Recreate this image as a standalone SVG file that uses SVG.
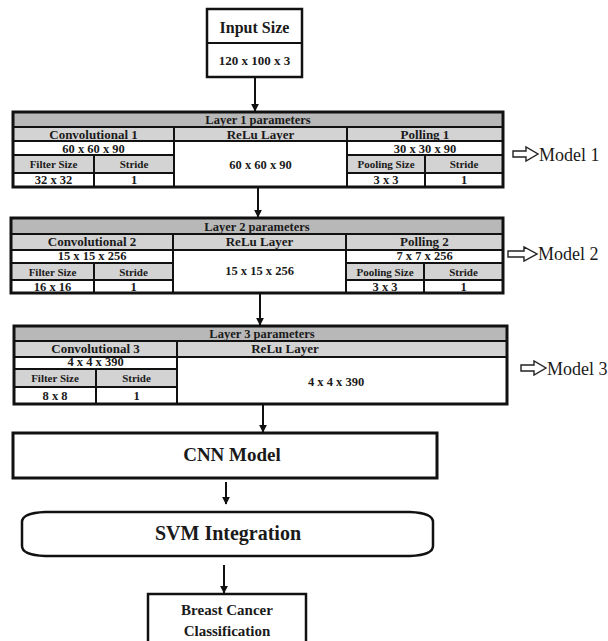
<svg xmlns="http://www.w3.org/2000/svg" width="608" height="641" viewBox="0 0 608 641">
<style>
text{font-family:"Liberation Serif","Times New Roman",serif;font-weight:bold;fill:#1a1a1a;text-anchor:middle}
.t{font-size:12.5px}
.h{font-size:13px}
.v{font-size:12.5px}
.s{font-size:11px}
.m{font-weight:normal;font-size:18px;text-anchor:start}
.tt{fill:#b8b8b8}
.hd{fill:#d3d3d3}
.wb{fill:#ffffff}
.ln{stroke:#111;stroke-width:2;fill:none}
.ob{stroke:#111;stroke-width:3;fill:none}
.bx{fill:#fff;stroke:#111;stroke-width:2.5}
.cn{stroke:#111;stroke-width:2;fill:none;marker-end:url(#ah)}
.ha{fill:#fff;stroke:#222;stroke-width:1.4}
</style>
<defs>
<marker id="ah" viewBox="0 0 10 10" refX="9" refY="5" markerWidth="4" markerHeight="4" orient="auto" markerUnits="strokeWidth">
<path d="M0,0 L10,5 L0,10 Z" fill="#111"/>
</marker>
</defs>
<rect width="608" height="641" fill="#fff"/>

<g id="input">
<rect class="bx" x="207" y="9" width="95" height="68"/>
<line class="ln" x1="207" y1="43" x2="302" y2="43"/>
<text x="254.5" y="33" style="font-size:16px">Input Size</text>
<text x="254.5" y="65" style="font-size:13px">120 x 100 x 3</text>
</g>

<g id="layer1">
<rect class="wb" x="13" y="112" width="490" height="75"/>
<rect class="tt" x="13" y="112" width="490" height="15"/>
<rect class="hd" x="13" y="127" width="490" height="14"/>
<rect class="hd" x="13" y="155" width="161" height="18"/>
<rect class="hd" x="347" y="155" width="156" height="18"/>
<path class="ln" d="M13,127H503M13,141H503M13,155H174M347,155H503M13,173H174M347,173H503M174,127V187M347,127V187M94,155V187M425,155V187"/>
<rect class="ob" x="13" y="112" width="490" height="75"/>
<text class="t" x="258" y="124">Layer 1 parameters</text>
<text class="h" x="93.5" y="138.5">Convolutional 1</text>
<text class="h" x="260.5" y="138.5">ReLu Layer</text>
<text class="h" x="425" y="138.5">Polling 1</text>
<text class="v" x="93.5" y="152.5">60 x 60 x 90</text>
<text class="v" x="425" y="152.5">30 x 30 x 90</text>
<text class="s" x="53.5" y="168">Filter Size</text>
<text class="s" x="134" y="168">Stride</text>
<text class="s" x="386" y="168">Pooling Size</text>
<text class="s" x="464" y="168">Stride</text>
<text class="v" x="53.5" y="184">32 x 32</text>
<text class="v" x="134" y="184">1</text>
<text class="v" x="386" y="184">3 x 3</text>
<text class="v" x="464" y="184">1</text>
<text class="v" x="260.5" y="169">60 x 60 x 90</text>
</g>

<g id="layer2">
<rect class="wb" x="11" y="218" width="492" height="75"/>
<rect class="tt" x="11" y="218" width="492" height="16"/>
<rect class="hd" x="11" y="234" width="492" height="16"/>
<rect class="hd" x="11" y="263" width="162" height="17"/>
<rect class="hd" x="346" y="263" width="157" height="17"/>
<path class="ln" d="M11,234H503M11,250H503M11,263H173M346,263H503M11,280H173M346,280H503M173,234V293M346,234V293M94,263V293M424,263V293"/>
<rect class="ob" x="11" y="218" width="492" height="75"/>
<text class="t" x="257" y="230.5">Layer 2 parameters</text>
<text class="h" x="92" y="246">Convolutional 2</text>
<text class="h" x="259.5" y="246">ReLu Layer</text>
<text class="h" x="424.5" y="246">Polling 2</text>
<text class="v" x="92" y="260">15 x 15 x 256</text>
<text class="v" x="424.5" y="260">7 x 7 x 256</text>
<text class="s" x="52.5" y="275.5">Filter Size</text>
<text class="s" x="133.5" y="275.5">Stride</text>
<text class="s" x="385" y="275.5">Pooling Size</text>
<text class="s" x="463.5" y="275.5">Stride</text>
<text class="v" x="52.5" y="290.5">16 x 16</text>
<text class="v" x="133.5" y="290.5">1</text>
<text class="v" x="385" y="290.5">3 x 3</text>
<text class="v" x="463.5" y="290.5">1</text>
<text class="v" x="259.5" y="275">15 x 15 x 256</text>
</g>

<g id="layer3">
<rect class="wb" x="14" y="326" width="493" height="78"/>
<rect class="tt" x="14" y="326" width="493" height="15"/>
<rect class="hd" x="14" y="341" width="493" height="16"/>
<rect class="hd" x="14" y="369" width="163" height="18"/>
<path class="ln" d="M14,341H507M14,357H507M14,369H177M14,387H177M177,341V404M96,369V404"/>
<rect class="ob" x="14" y="326" width="493" height="78"/>
<text class="t" x="262" y="338">Layer 3 parameters</text>
<text class="h" x="95.5" y="353">Convolutional 3</text>
<text class="h" x="285" y="353">ReLu Layer</text>
<text class="v" x="95.5" y="366">4 x 4 x 390</text>
<text class="s" x="55" y="382">Filter Size</text>
<text class="s" x="136.5" y="382">Stride</text>
<text class="v" x="55" y="400">8 x 8</text>
<text class="v" x="136.5" y="400">1</text>
<text class="v" x="336" y="386">4 x 4 x 390</text>
</g>

<g id="model1">
<path class="ha" d="M513,151H526V147L538,154L526,161V157H513Z"/>
<text class="m" x="539" y="161">Model 1</text>
</g>
<g id="model2">
<path class="ha" d="M508,251H524V247L537,254L524,261V257H508Z"/>
<text class="m" x="538" y="260">Model 2</text>
</g>
<g id="model3">
<path class="ha" d="M521,365H534V361L546,368L534,375V371H521Z"/>
<text class="m" x="547" y="375">Model 3</text>
</g>

<g id="cnn">
<rect class="bx" x="13" y="433" width="424" height="45" style="stroke-width:3"/>
<text x="232" y="461" style="font-size:19px">CNN Model</text>
</g>

<g id="svm">
<path class="bx" d="M45,512H410Q433,513 433,522V546Q433,555 410,556H45Q22,555 22,546V522Q22,513 45,512Z"/>
<text x="228" y="540" style="font-size:20px">SVM Integration</text>
</g>

<g id="breast">
<rect class="bx" x="148" y="594" width="158" height="52"/>
<text x="227" y="615" style="font-size:15px">Breast Cancer</text>
<text x="227" y="636" style="font-size:15px">Classification</text>
</g>

<g id="connectors">
<line class="cn" x1="255" y1="77" x2="255" y2="111"/>
<line class="cn" x1="258" y1="188" x2="258" y2="217"/>
<line class="cn" x1="260" y1="294" x2="260" y2="325"/>
<line class="cn" x1="263" y1="405" x2="263" y2="432"/>
<line class="cn" x1="226" y1="482" x2="226" y2="504"/>
<line class="cn" x1="224" y1="565" x2="224" y2="593"/>
</g>
</svg>
